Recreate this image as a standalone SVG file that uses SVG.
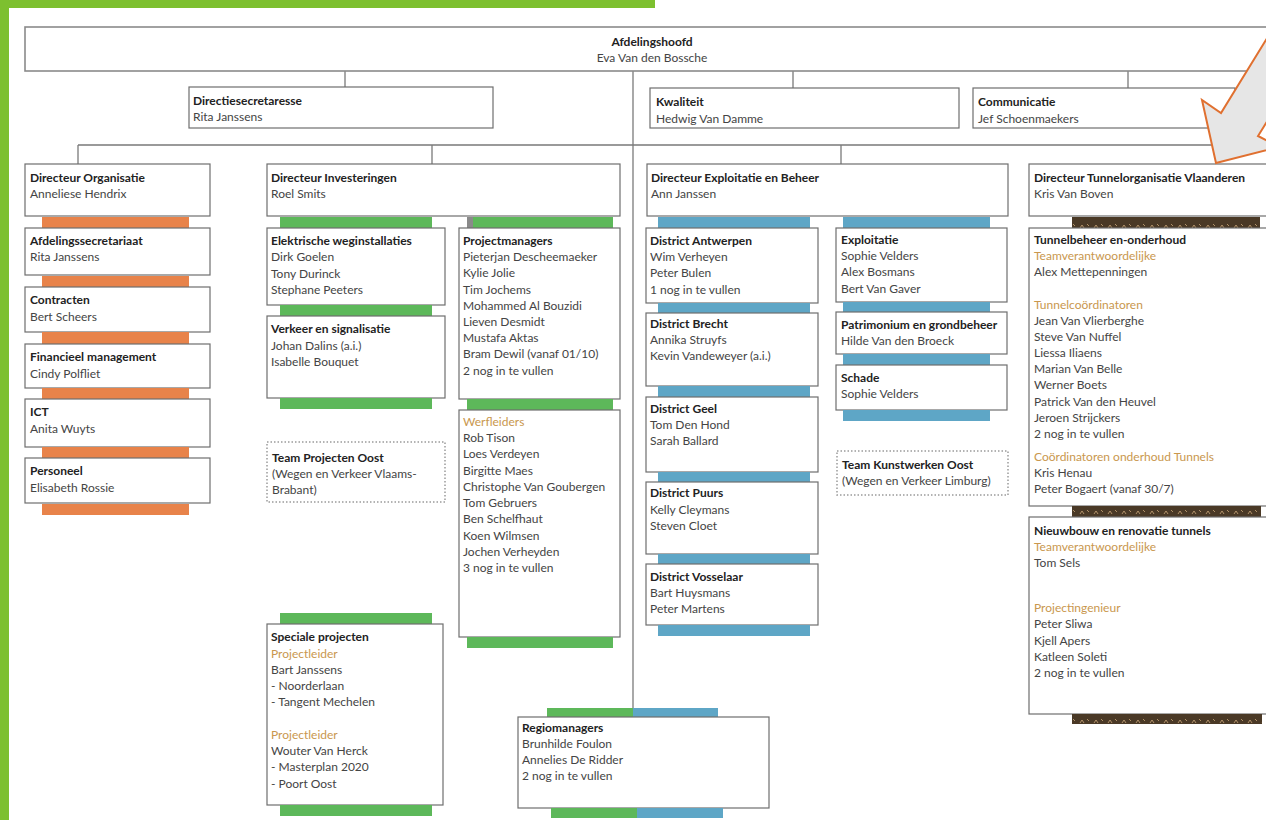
<svg xmlns="http://www.w3.org/2000/svg" width="1266" height="820" viewBox="0 0 1266 820">
<defs>
<style>
.bg{fill:#ffffff}
.box{fill:#fff;stroke:#6e6e6e;stroke-width:1.2}
.top{fill:#fff;stroke:#8a8a8a;stroke-width:1.6}
.dot{fill:#fff;stroke:#9a9a9a;stroke-width:1.5;stroke-dasharray:1.5 2}
.ln{stroke:#7a7a7a;stroke-width:1.3;fill:none}
text{font-family:Lato,"Liberation Sans",sans-serif;font-size:12px;fill:#444}
.b{font-weight:bold;fill:#222}
.o{fill:#c9974e}
.c{text-anchor:middle}
.org{fill:#e8834a}
.grn{fill:#5db85a}
.blu{fill:#5ea6c6}
.brn{fill:url(#brnpat)}
.lime{fill:#7dc02f}
</style>
<pattern id="brnpat" width="14" height="11" patternUnits="userSpaceOnUse">
<rect width="14" height="11" fill="#4a3926"/>
<path d="M2 8 L4 5 L6 8" stroke="#c8a679" stroke-width="0.8" fill="none"/>
<path d="M9 4 L11 6" stroke="#c8a679" stroke-width="0.8" fill="none"/>
</pattern>
</defs>
<rect class="bg" x="0" y="0" width="1266" height="820"/>
<g id="frame">
<rect class="lime" x="0" y="0" width="655" height="8"/>
<rect class="lime" x="0" y="0" width="9" height="820"/>
</g>
<g id="connectors">
<path class="ln" d="M633 71 V708"/>
<path class="ln" d="M345 71 V87 M793 71 V88 M1128 71 V88"/>
<path class="ln" d="M78 145 H1240 M78 145 V164 M432 145 V164 M841 145 V164"/>
</g>
<g id="n-afdelingshoofd">
<rect class="top" x="25" y="27" width="1255" height="44"/>
<text class="b c" x="652" y="46">Afdelingshoofd</text>
<text class="c" x="652" y="62">Eva Van den Bossche</text>
</g>
<g id="n-directiesecretaresse">
<rect class="box" x="189" y="87" width="304" height="41"/>
<text class="b" x="193" y="105">Directiesecretaresse</text>
<text x="193" y="121">Rita Janssens</text>
</g>
<g id="n-kwaliteit">
<rect class="box" x="650" y="88" width="309" height="40"/>
<text class="b" x="656" y="106">Kwaliteit</text>
<text x="656" y="123">Hedwig Van Damme</text>
</g>
<g id="n-communicatie">
<rect class="box" x="973" y="88" width="262" height="40"/>
<text class="b" x="978" y="106">Communicatie</text>
<text x="978" y="123">Jef Schoenmaekers</text>
</g>
<g id="n-dir-organisatie">
<rect class="box" x="25" y="164" width="185" height="52"/>
<text class="b" x="30" y="182">Directeur Organisatie</text>
<text x="30" y="198">Anneliese Hendrix</text>
<rect class="org" x="42" y="217" width="147" height="11"/>
</g>
<g id="n-afdelingssecretariaat">
<rect class="box" x="25" y="228" width="185" height="47"/>
<text class="b" x="30" y="245">Afdelingssecretariaat</text>
<text x="30" y="261">Rita Janssens</text>
<rect class="org" x="42" y="276" width="147" height="11"/>
</g>
<g id="n-contracten">
<rect class="box" x="25" y="287" width="185" height="45"/>
<text class="b" x="30" y="304">Contracten</text>
<text x="30" y="321">Bert Scheers</text>
<rect class="org" x="42" y="332" width="147" height="12"/>
</g>
<g id="n-financieel">
<rect class="box" x="25" y="344" width="185" height="44"/>
<text class="b" x="30" y="361">Financieel management</text>
<text x="30" y="378">Cindy Polfliet</text>
<rect class="org" x="42" y="388" width="147" height="11"/>
</g>
<g id="n-ict">
<rect class="box" x="25" y="399" width="185" height="48"/>
<text class="b" x="30" y="416">ICT</text>
<text x="30" y="433">Anita Wuyts</text>
<rect class="org" x="42" y="447" width="147" height="11"/>
</g>
<g id="n-personeel">
<rect class="box" x="25" y="458" width="185" height="45"/>
<text class="b" x="30" y="475">Personeel</text>
<text x="30" y="492">Elisabeth Rossie</text>
<rect class="org" x="42" y="504" width="147" height="11"/>
</g>
<g id="n-dir-investeringen">
<rect class="box" x="267" y="164" width="353" height="52"/>
<text class="b" x="271" y="182">Directeur Investeringen</text>
<text x="271" y="198">Roel Smits</text>
<rect class="grn" x="280" y="217" width="152" height="11"/>
<rect class="grn" x="467" y="217" width="146" height="11"/>
<rect x="467" y="217" width="6" height="11" fill="#8a8a8a"/>
</g>
<g id="n-elektrische">
<rect class="box" x="267" y="228" width="178" height="77"/>
<text class="b" x="271" y="245">Elektrische weginstallaties</text>
<text x="271" y="261">Dirk Goelen</text>
<text x="271" y="278">Tony Durinck</text>
<text x="271" y="294">Stephane Peeters</text>
<rect class="grn" x="280" y="305" width="152" height="11"/>
</g>
<g id="n-verkeer">
<rect class="box" x="267" y="316" width="178" height="82"/>
<text class="b" x="271" y="333">Verkeer en signalisatie</text>
<text x="271" y="350">Johan Dalins (a.i.)</text>
<text x="271" y="366">Isabelle Bouquet</text>
<rect class="grn" x="280" y="398" width="152" height="11"/>
</g>
<g id="n-projectmanagers">
<rect class="box" x="459" y="228" width="161" height="171"/>
<text class="b" x="463" y="245">Projectmanagers</text>
<text x="463" y="261">Pieterjan Descheemaeker</text>
<text x="463" y="277">Kylie Jolie</text>
<text x="463" y="294">Tim Jochems</text>
<text x="463" y="310">Mohammed Al Bouzidi</text>
<text x="463" y="326">Lieven Desmidt</text>
<text x="463" y="342">Mustafa Aktas</text>
<text x="463" y="358">Bram Dewil (vanaf 01/10)</text>
<text x="463" y="375">2 nog in te vullen</text>
<rect class="grn" x="467" y="399" width="146" height="11"/>
</g>
<g id="n-werfleiders">
<rect class="box" x="459" y="410" width="161" height="227"/>
<text class="o" x="463" y="426">Werfleiders</text>
<text x="463" y="442">Rob Tison</text>
<text x="463" y="458">Loes Verdeyen</text>
<text x="463" y="475">Birgitte Maes</text>
<text x="463" y="491">Christophe Van Goubergen</text>
<text x="463" y="507">Tom Gebruers</text>
<text x="463" y="523">Ben Schelfhaut</text>
<text x="463" y="540">Koen Wilmsen</text>
<text x="463" y="556">Jochen Verheyden</text>
<text x="463" y="572">3 nog in te vullen</text>
<rect class="grn" x="467" y="637" width="146" height="11"/>
</g>
<g id="n-team-projecten-oost">
<rect class="dot" x="267" y="442" width="178" height="60"/>
<text class="b" x="272" y="462">Team Projecten Oost</text>
<text x="272" y="478">(Wegen en Verkeer Vlaams-</text>
<text x="272" y="494">Brabant)</text>
</g>
<g id="n-speciale-projecten">
<rect class="grn" x="280" y="613" width="152" height="11"/>
<rect class="box" x="267" y="624" width="176" height="181"/>
<text class="b" x="271" y="641">Speciale projecten</text>
<text class="o" x="271" y="658">Projectleider</text>
<text x="271" y="674">Bart Janssens</text>
<text x="271" y="690">- Noorderlaan</text>
<text x="271" y="706">- Tangent Mechelen</text>
<text class="o" x="271" y="739">Projectleider</text>
<text x="271" y="755">Wouter Van Herck</text>
<text x="271" y="771">- Masterplan 2020</text>
<text x="271" y="788">- Poort Oost</text>
<rect class="grn" x="280" y="805" width="152" height="11"/>
</g>
<g id="n-regiomanagers">
<rect class="grn" x="547" y="708" width="86" height="9"/>
<rect class="blu" x="633" y="708" width="85" height="9"/>
<rect class="box" x="518" y="717" width="251" height="91"/>
<text class="b" x="522" y="732">Regiomanagers</text>
<text x="522" y="748">Brunhilde Foulon</text>
<text x="522" y="764">Annelies De Ridder</text>
<text x="522" y="780">2 nog in te vullen</text>
<rect class="grn" x="551" y="808" width="86" height="10"/>
<rect class="blu" x="637" y="808" width="86" height="10"/>
</g>
<g id="n-dir-exploitatie">
<rect class="box" x="647" y="164" width="361" height="52"/>
<text class="b" x="651" y="182">Directeur Exploitatie en Beheer</text>
<text x="651" y="198">Ann Janssen</text>
<rect class="blu" x="658" y="217" width="152" height="11"/>
<rect class="blu" x="843" y="217" width="147" height="11"/>
</g>
<g id="n-district-antwerpen">
<rect class="box" x="646" y="228" width="172" height="75"/>
<text class="b" x="650" y="245">District Antwerpen</text>
<text x="650" y="261">Wim Verheyen</text>
<text x="650" y="277">Peter Bulen</text>
<text x="650" y="294">1 nog in te vullen</text>
<rect class="blu" x="658" y="303" width="152" height="10"/>
</g>
<g id="n-district-brecht">
<rect class="box" x="646" y="313" width="172" height="73"/>
<text class="b" x="650" y="328">District Brecht</text>
<text x="650" y="344">Annika Struyfs</text>
<text x="650" y="360">Kevin Vandeweyer (a.i.)</text>
<rect class="blu" x="658" y="386" width="152" height="11"/>
</g>
<g id="n-district-geel">
<rect class="box" x="646" y="397" width="172" height="75"/>
<text class="b" x="650" y="413">District Geel</text>
<text x="650" y="429">Tom Den Hond</text>
<text x="650" y="445">Sarah Ballard</text>
<rect class="blu" x="658" y="472" width="152" height="10"/>
</g>
<g id="n-district-puurs">
<rect class="box" x="646" y="482" width="172" height="72"/>
<text class="b" x="650" y="497">District Puurs</text>
<text x="650" y="514">Kelly Cleymans</text>
<text x="650" y="530">Steven Cloet</text>
<rect class="blu" x="658" y="554" width="152" height="10"/>
</g>
<g id="n-district-vosselaar">
<rect class="box" x="646" y="564" width="172" height="61"/>
<text class="b" x="650" y="581">District Vosselaar</text>
<text x="650" y="597">Bart Huysmans</text>
<text x="650" y="613">Peter Martens</text>
<rect class="blu" x="658" y="625" width="152" height="11"/>
</g>
<g id="n-exploitatie">
<rect class="box" x="836" y="228" width="171" height="74"/>
<text class="b" x="841" y="244">Exploitatie</text>
<text x="841" y="260">Sophie Velders</text>
<text x="841" y="276">Alex Bosmans</text>
<text x="841" y="293">Bert Van Gaver</text>
<rect class="blu" x="843" y="302" width="147" height="10"/>
</g>
<g id="n-patrimonium">
<rect class="box" x="836" y="312" width="171" height="42"/>
<text class="b" x="841" y="329">Patrimonium en grondbeheer</text>
<text x="841" y="345">Hilde Van den Broeck</text>
<rect class="blu" x="843" y="354" width="147" height="11"/>
</g>
<g id="n-schade">
<rect class="box" x="836" y="365" width="171" height="45"/>
<text class="b" x="841" y="382">Schade</text>
<text x="841" y="398">Sophie Velders</text>
<rect class="blu" x="843" y="410" width="147" height="11"/>
</g>
<g id="n-team-kunstwerken-oost">
<rect class="dot" x="837" y="451" width="171" height="44"/>
<text class="b" x="842" y="469">Team Kunstwerken Oost</text>
<text x="842" y="485">(Wegen en Verkeer Limburg)</text>
</g>
<g id="n-dir-tunnel">
<rect class="box" x="1029" y="164" width="250" height="52"/>
<text class="b" x="1034" y="182">Directeur Tunnelorganisatie Vlaanderen</text>
<text x="1034" y="198">Kris Van Boven</text>
<rect class="brn" x="1072" y="217" width="188" height="11"/>
</g>
<g id="n-tunnelbeheer">
<rect class="box" x="1029" y="228" width="250" height="278"/>
<text class="b" x="1034" y="244">Tunnelbeheer en-onderhoud</text>
<text class="o" x="1034" y="260">Teamverantwoordelijke</text>
<text x="1034" y="276">Alex Mettepenningen</text>
<text class="o" x="1034" y="309">Tunnelcoördinatoren</text>
<text x="1034" y="325">Jean Van Vlierberghe</text>
<text x="1034" y="341">Steve Van Nuffel</text>
<text x="1034" y="357">Liessa Iliaens</text>
<text x="1034" y="373">Marian Van Belle</text>
<text x="1034" y="389">Werner Boets</text>
<text x="1034" y="406">Patrick Van den Heuvel</text>
<text x="1034" y="422">Jeroen Strijckers</text>
<text x="1034" y="438">2 nog in te vullen</text>
<text class="o" x="1034" y="461">Coördinatoren onderhoud Tunnels</text>
<text x="1034" y="477">Kris Henau</text>
<text x="1034" y="493">Peter Bogaert (vanaf 30/7)</text>
<rect class="brn" x="1072" y="506" width="189" height="11"/>
</g>
<g id="n-nieuwbouw">
<rect class="box" x="1029" y="517" width="250" height="197"/>
<text class="b" x="1034" y="535">Nieuwbouw en renovatie tunnels</text>
<text class="o" x="1034" y="551">Teamverantwoordelijke</text>
<text x="1034" y="567">Tom Sels</text>
<text class="o" x="1034" y="612">Projectingenieur</text>
<text x="1034" y="628">Peter Sliwa</text>
<text x="1034" y="645">Kjell Apers</text>
<text x="1034" y="661">Katleen Soleti</text>
<text x="1034" y="677">2 nog in te vullen</text>
<rect class="brn" x="1072" y="714" width="190" height="10"/>
</g>
<g id="callout-arrow">
<polygon points="1216,163 1202,100 1221,113 1290,1 1326,27 1258,136 1279,147" fill="#e6e6e6" stroke="#e07030" stroke-width="2" stroke-linejoin="miter"/>
</g>
</svg>
